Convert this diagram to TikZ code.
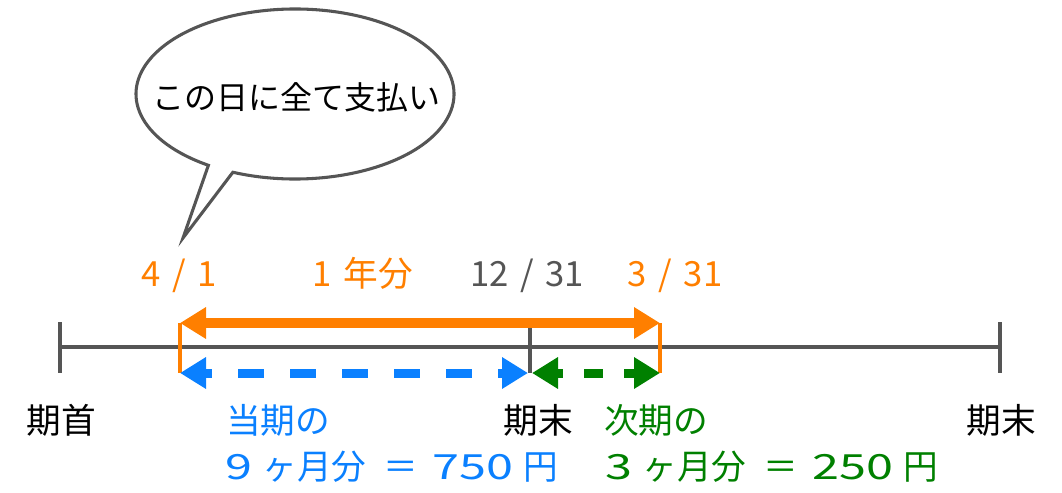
\documentclass[tikz,border=0pt]{standalone}
\usepackage{fontspec}
\setmainfont{Noto Sans CJK JP}
\newfontfamily\widefont[FakeStretch=1.4]{Noto Sans CJK JP}
\newfontfamily\datefont[WordSpace=1.5]{Noto Sans CJK JP}
\usetikzlibrary{arrows.meta}
\definecolor{linegray}{HTML}{555555}
\definecolor{payorange}{HTML}{FF7F00}
\definecolor{nowblue}{HTML}{0A80FF}
\definecolor{nextgreen}{HTML}{008000}
\tikzset{
  axis/.style={draw=linegray, line width=2.6pt},
  edge/.style={draw=payorange, line width=2.3pt},
  bigtip/.style={{Triangle[length=19.5pt,width=22.5pt]}-{Triangle[length=19.5pt,width=22.5pt]}},
  label/.style={inner sep=0pt, font=\fontsize{26pt}{30pt}\selectfont},
  datelabel/.style={label, anchor=base, font=\datefont\fontsize{26pt}{30pt}\selectfont},
}
\begin{document}
\begin{tikzpicture}[x=0.75pt, y=-0.75pt]
  \useasboundingbox (0,0) rectangle (1062,492);
  \draw
    (60,347) coordinate (kishu)
    (530,347) coordinate (kimatsu)
    (1000,347) coordinate (jikimatsu)
    (180,323) coordinate (payL)
    (660,323) coordinate (payR)
    (180,373) coordinate (nowL)
    (528,373) coordinate (nowR)
    (532,373) coordinate (nextL)
    (660,373) coordinate (nextR);
  % time line
  \draw[axis] (kishu) -- (jikimatsu);
  \draw[axis] (kishu) ++(0,-25) -- ++(0,51);
  \draw[axis] (kimatsu) ++(0,-25) -- ++(0,51);
  \draw[axis] (jikimatsu) ++(0,-25) -- ++(0,51);
  \draw[edge] (payL) -- (nowL);
  \draw[edge] (payR) -- (nextR);
  % periods
  \draw[payorange, line width=7.5pt, bigtip] (payL) -- (payR);
  \draw[nowblue, line width=6.75pt, dash pattern=on 19.5pt off 19.5pt, dash phase=13.5pt, bigtip] (nowL) -- (nowR);
  \draw[nextgreen, line width=6.75pt, dash pattern=on 14.25pt off 15.75pt, dash phase=9pt, bigtip] (nextL) -- (nextR);
  % dates
  \node[datelabel, text=payorange] (start) at (179,286) {4 / 1};
  \node[datelabel, text=payorange] (year) at (363,286) {1 年分};
  \node[datelabel, text=linegray] (close) at (527,286) {12 / 31};
  \node[datelabel, text=payorange] (end) at (675,286) {3 / 31};
  % period names
  \node[label, anchor=base] (kishutext) at (61,433) {期首};
  \node[label, anchor=base] (kimatsutext) at (538,433) {期末};
  \node[label, anchor=base] (jikimatsutext) at (1001,433) {期末};
  \node[label, anchor=base west, text=nowblue] (now) at (226,433) {当期の};
  \node[label, anchor=base west, text=nowblue] (nowsum) at (225,479)
    {{\widefont 9}\hspace{0.3em}ヶ月分\hspace{0.5em}＝\hspace{0.4em}{\widefont 750}\hspace{0.3em}円};
  \node[label, anchor=base west, text=nextgreen] (next) at (604,433) {次期の};
  \node[label, anchor=base west, text=nextgreen] (nextsum) at (605,479)
    {{\widefont 3}\hspace{0.3em}ヶ月分\hspace{0.5em}＝\hspace{0.4em}{\widefont 250}\hspace{0.3em}円};
  % speech bubble
  \draw[linegray, line width=2.3pt, fill=white]
    (295,94) ++(113:159 and 85) arc[start angle=113, end angle=-237, x radius=159, y radius=85]
    -- (183,238) -- cycle;
  \node[inner sep=0pt, font=\fontsize{24pt}{28pt}\selectfont] (bubble) at (296,97) {この日に全て支払い};
\end{tikzpicture}
\end{document}
